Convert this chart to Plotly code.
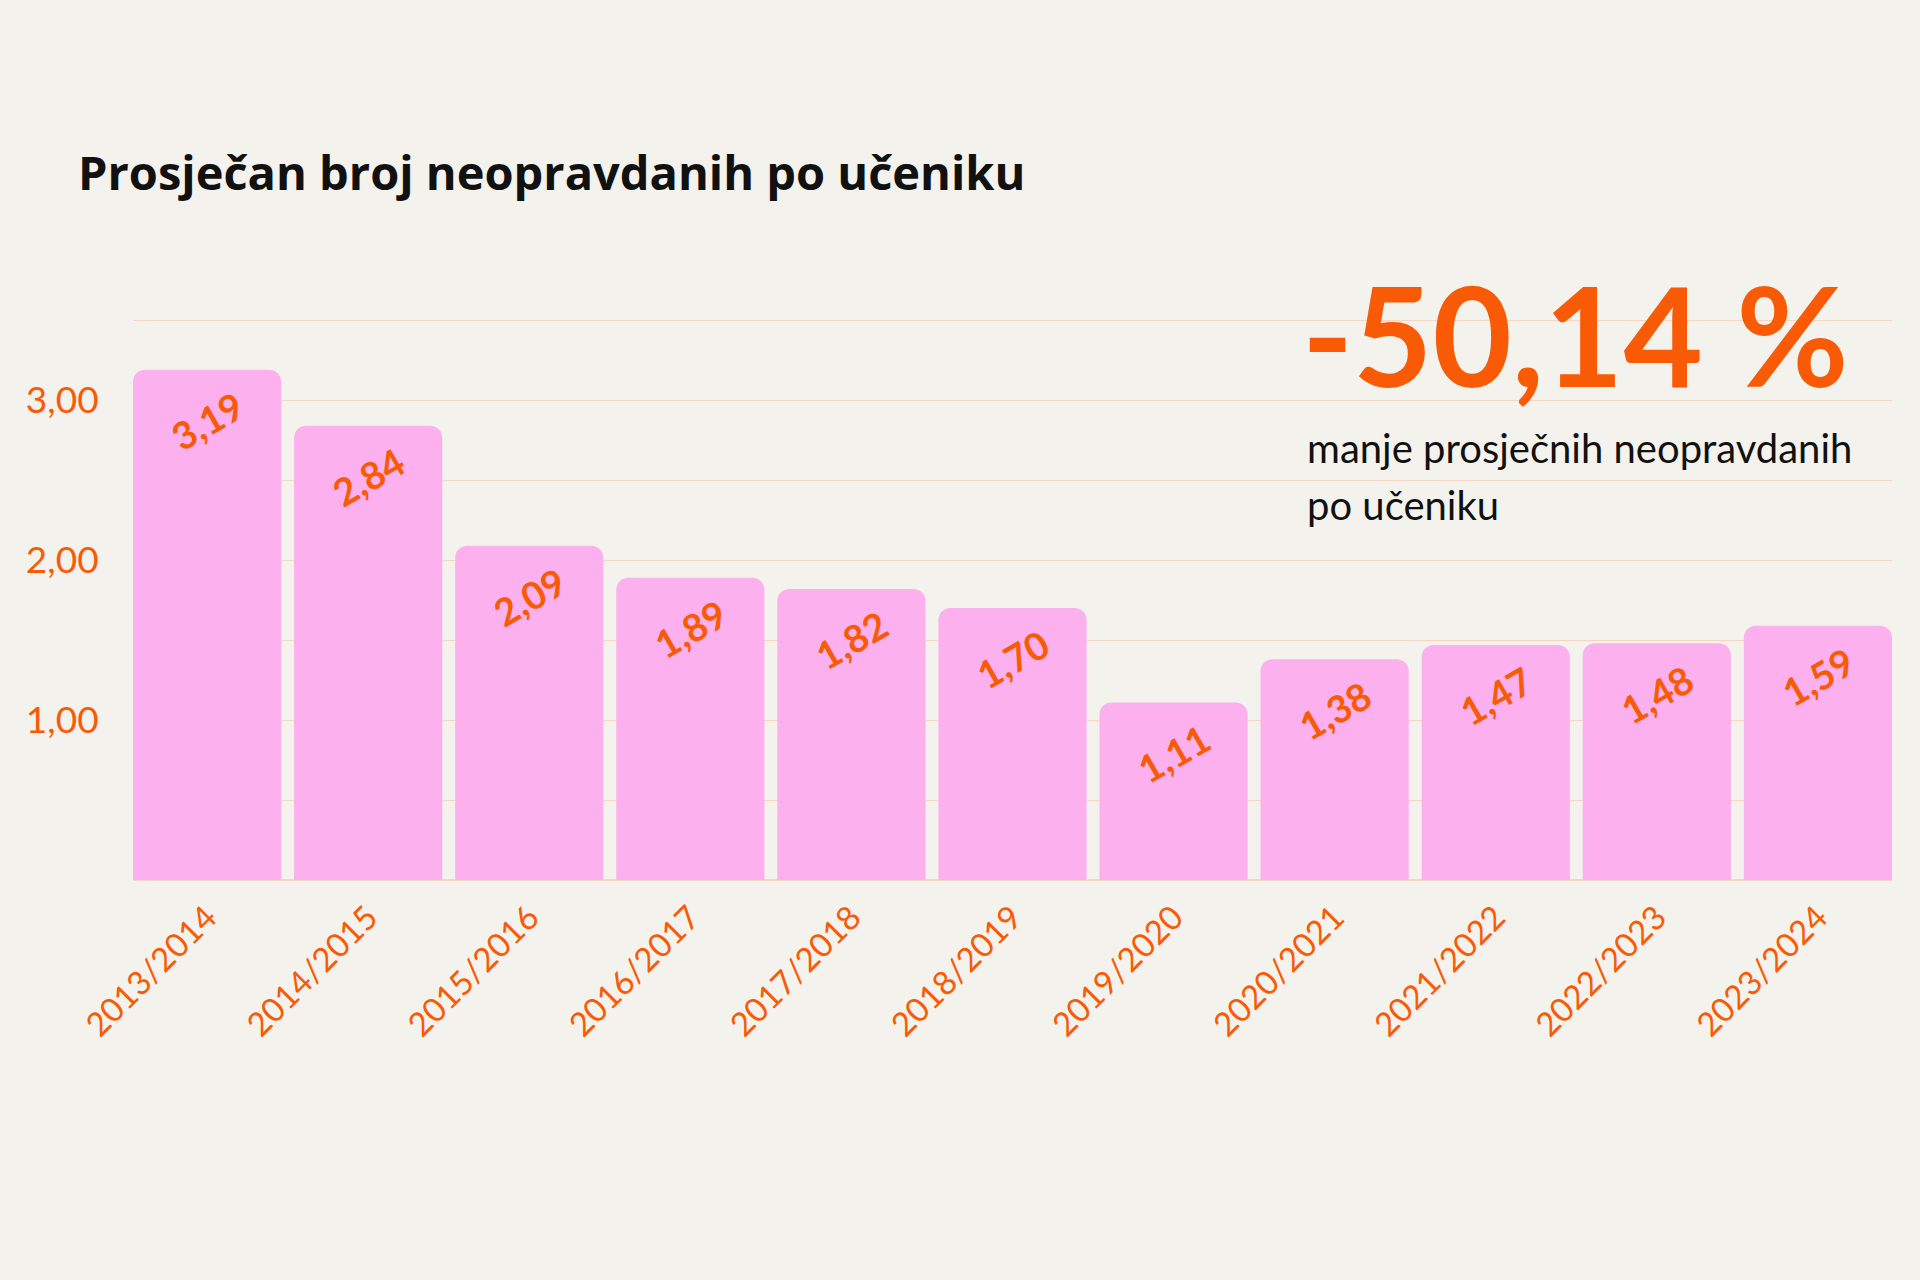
import plotly.graph_objects as go

# ---- data ----
school_years = ["2013/2014", "2014/2015", "2015/2016", "2016/2017", "2017/2018",
                "2018/2019", "2019/2020", "2020/2021", "2021/2022", "2022/2023", "2023/2024"]
avg_unexcused = [3.19, 2.84, 2.09, 1.89, 1.82, 1.70, 1.11, 1.38, 1.47, 1.48, 1.59]
y_tick_vals = [1, 2, 3]

title_text = "Prosječan broj neopravdanih po učeniku"
big_number_text = "-50,14 %"
sub_line1 = "manje prosječnih neopravdanih"
sub_line2 = "po učeniku"

# ---- styles ----
BG = "#F4F2ED"
PINK = "#FCB1EE"
ORANGE = "#F95A06"
GRID = "#F6D6C2"
FONT = "Lato"

W, H = 1920, 1280
ML, MR, MT, MB = 133, 28, 317, 400
PW, PH = W - ML - MR, H - MT - MB


def px(xp):
    return (xp - ML) / PW


def py(yp):
    return 1 - (yp - MT) / PH


fig = go.Figure()
fig.add_trace(go.Bar(
    x=school_years,
    y=avg_unexcused,
    marker=dict(color=PINK, line=dict(width=0)),
    texttemplate="%{y:.2f}",
    textposition="inside",
    insidetextanchor="end",
    textangle=-30,
    insidetextfont=dict(family=FONT, size=38, color=ORANGE, weight="bold"),
    hoverinfo="skip",
))

gap = 0.08
fig.update_layout(
    width=W, height=H,
    margin=dict(l=ML, r=MR, t=MT, b=MB),
    paper_bgcolor=BG, plot_bgcolor=BG,
    separators=",.",
    bargap=gap,
    barcornerradius=12,
    showlegend=False,
    font=dict(family=FONT),
    xaxis=dict(
        range=[-0.5 + gap / 2, len(school_years) - 0.5 - gap / 2],
        showgrid=False, zeroline=False, showline=False,
        tickangle=-45,
        tickfont=dict(family=FONT, size=33, color=ORANGE),
        ticks="outside", ticklen=4, tickcolor="rgba(0,0,0,0)",
    ),
    yaxis=dict(
        range=[0, 3.52],
        tickvals=y_tick_vals,
        tickformat=".2f",
        tickfont=dict(family=FONT, size=37, color=ORANGE),
        showgrid=True, gridcolor=GRID, gridwidth=1,
        minor=dict(dtick=0.5, showgrid=True, gridcolor=GRID, gridwidth=1),
        zeroline=True, zerolinecolor=GRID, zerolinewidth=2,
        showline=False,
        ticks="outside", ticklen=26, tickcolor="rgba(0,0,0,0)",
    ),
    annotations=[
        dict(text="<b>" + title_text + "</b>", xref="paper", yref="paper",
             x=px(76), y=py(172), xanchor="left", yanchor="middle",
             showarrow=False, font=dict(family="Open Sans", size=47, color="#111111")),
        dict(text=big_number_text, xref="paper", yref="paper",
             x=px(1300), y=py(334), xanchor="left", yanchor="middle",
             showarrow=False, font=dict(family=FONT, size=137, color=ORANGE, weight="bold")),
        dict(text=sub_line1, xref="paper", yref="paper",
             x=px(1305), y=py(448), xanchor="left", yanchor="middle",
             showarrow=False, font=dict(family=FONT, size=40, color="#111111")),
        dict(text=sub_line2, xref="paper", yref="paper",
             x=px(1305), y=py(505), xanchor="left", yanchor="middle",
             showarrow=False, font=dict(family=FONT, size=40, color="#111111")),
    ],
)

fig.write_html("out.html", config={"displayModeBar": False},
               post_script="document.body.style.margin='0';")
